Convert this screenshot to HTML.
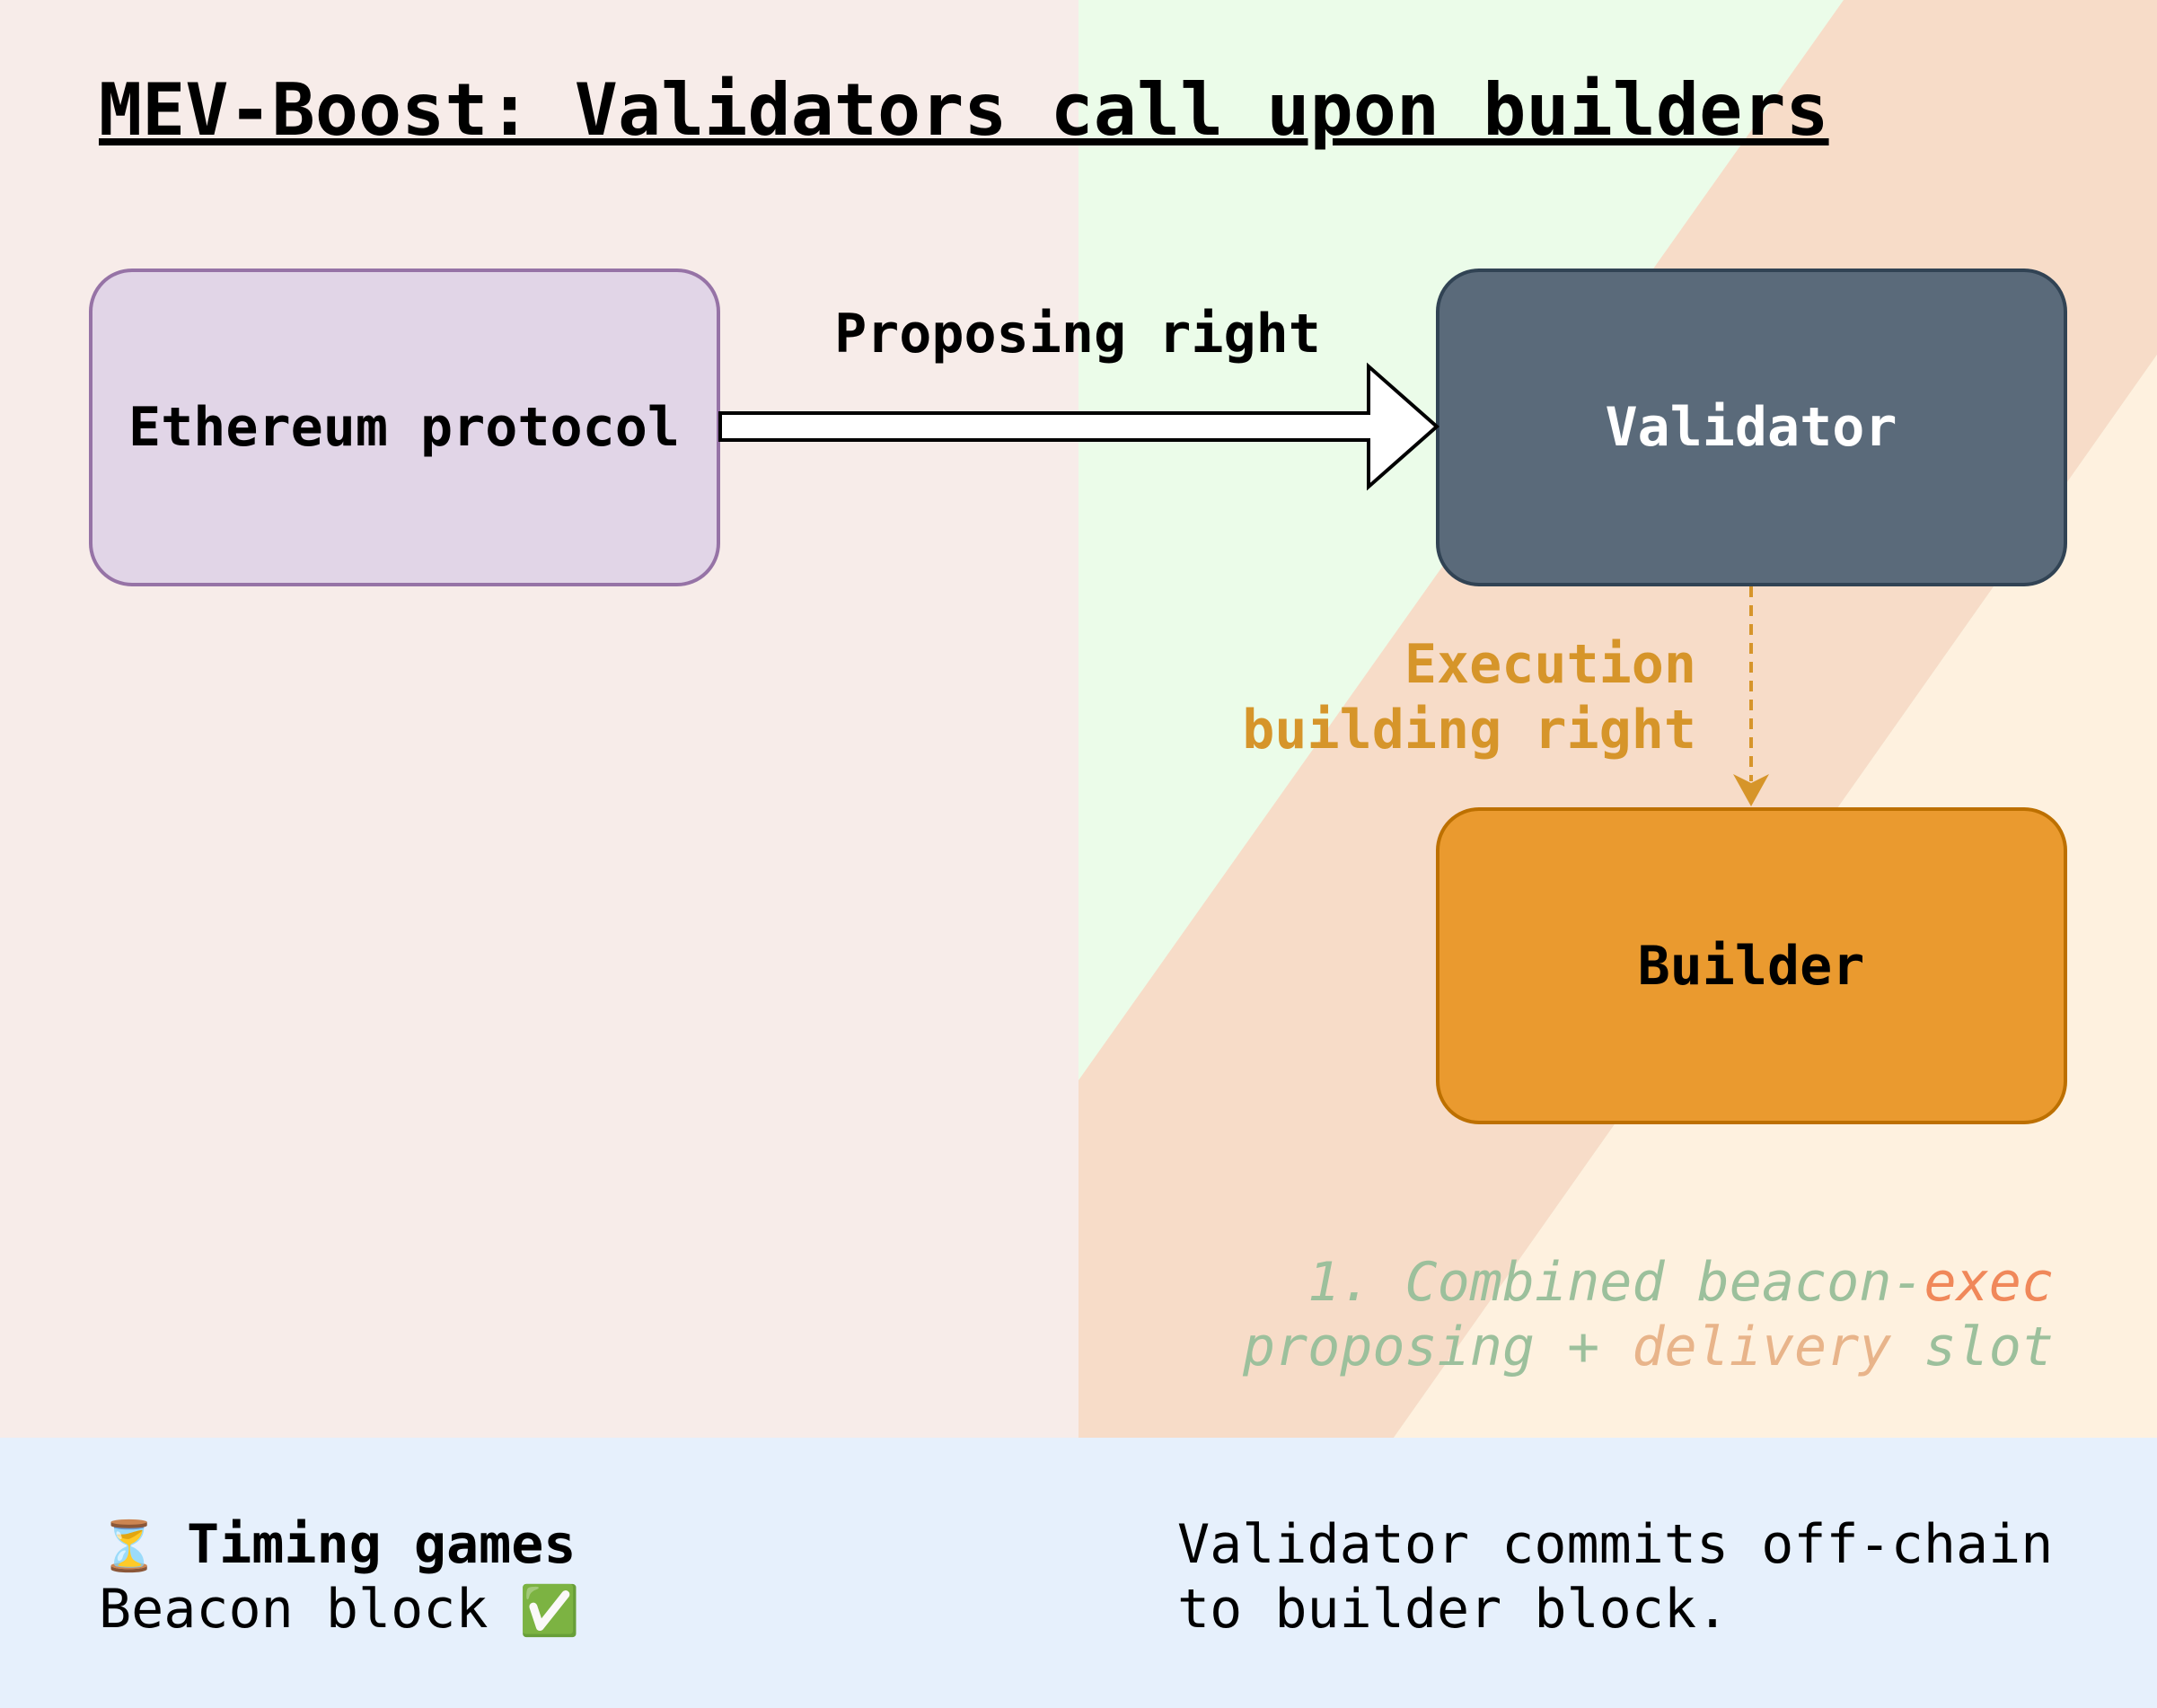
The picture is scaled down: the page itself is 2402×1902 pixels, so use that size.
<!DOCTYPE html>
<html><head><meta charset="utf-8"><style>
html,body{margin:0;padding:0;width:2402px;height:1902px;overflow:hidden}
svg{display:block}
text{font-family:"DejaVu Sans Mono","Liberation Mono",monospace}
</style></head><body>
<svg width="2402" height="1902" viewBox="0 0 2402 1902" xmlns="http://www.w3.org/2000/svg">
<rect x="0" y="0" width="1201" height="1601" fill="#f7ece9"/>
<rect x="1201" y="0" width="1201" height="1601" fill="#ebfce9"/>
<polygon points="1201,1203 2053,0 2402,0 2402,395 1552,1601 1201,1601" fill="#f7dcc8"/>
<polygon points="2402,395 2402,1601 1552,1601" fill="#fef1df"/>
<rect x="0" y="1601" width="2402" height="301" fill="#e6f0fc"/>
<text x="110" y="150" font-size="80" font-weight="bold" fill="#000" text-decoration="underline">MEV-Boost: Validators call upon builders</text>
<rect x="101" y="301" width="699" height="350" rx="46" fill="#e1d5e7" stroke="#9673a6" stroke-width="4"/>
<text x="450" y="496" font-size="60" font-weight="bold" text-anchor="middle">Ethereum protocol</text>
<rect x="1601" y="301" width="699" height="350" rx="46" fill="#5a6a7a" stroke="#314354" stroke-width="4"/>
<text x="1950" y="496" font-size="60" font-weight="bold" fill="#fff" text-anchor="middle">Validator</text>
<rect x="1601" y="901" width="699" height="349" rx="46" fill="#ea9a2f" stroke="#bd7000" stroke-width="4"/>
<text x="1950" y="1096" font-size="60" font-weight="bold" fill="#000" text-anchor="middle">Builder</text>
<polygon points="802,460 1524,460 1524,408 1600,475 1524,542 1524,490 802,490" fill="#fff" stroke="#000" stroke-width="4"/>
<text x="1200" y="392" font-size="60" font-weight="bold" text-anchor="middle">Proposing right</text>
<line x1="1950" y1="653" x2="1950" y2="870" stroke="#d6952a" stroke-width="4" stroke-dasharray="12,9"/>
<polygon points="1930,862 1950,898 1970,862 1950,872" fill="#d6952a"/>
<text x="1889" y="760" font-size="60" font-weight="bold" fill="#d6952a" text-anchor="end">Execution</text>
<text x="1889" y="833" font-size="60" font-weight="bold" fill="#d6952a" text-anchor="end">building right</text>
<text x="2287" y="1448" font-size="60" font-style="italic" fill="#9cc09c" text-anchor="end">1. Combined beacon-<tspan fill="#f0885a">exec</tspan></text>
<text x="2287" y="1520" font-size="60" font-style="italic" fill="#9cc09c" text-anchor="end">proposing + <tspan fill="#e8b48a">delivery</tspan> slot</text>
<text x="110" y="1740" font-size="54" font-family="'Noto Sans CJK JP',sans-serif">⏳</text>
<text x="208" y="1740" font-size="60" font-weight="bold">Timing games</text>
<text x="110" y="1812" font-size="60">Beacon block</text>
<text x="578" y="1812" font-size="54" font-family="'Noto Sans CJK JP',sans-serif" fill="#3aa845">✅</text>
<text x="1311" y="1740" font-size="60">Validator commits off-chain</text>
<text x="1311" y="1812" font-size="60">to builder block.</text>
</svg>
</body></html>
